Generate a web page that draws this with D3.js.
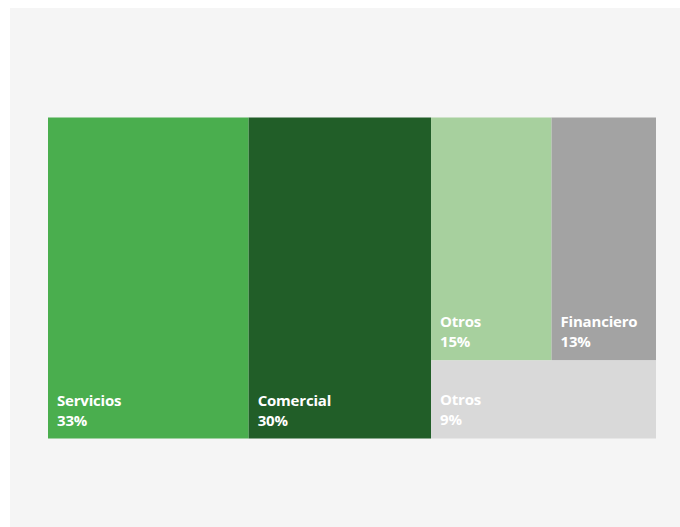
<!DOCTYPE html>
<html>
<head>
<meta charset="utf-8">
<script src="https://cdn.jsdelivr.net/npm/d3@7"></script>
<style>
  html, body { margin: 0; padding: 0; background: #ffffff; }
  svg { display: block; }
</style>
</head>
<body>
<svg id="chart" width="680" height="527"></svg>
<script>
// Data
const sectors = ["Servicios", "Comercial", "Otros", "Financiero", "Otros"];
const shares = [33, 30, 15, 13, 9];
const colors = ["#4aae4e", "#215e28", "#a7d09e", "#a3a3a3", "#d9d9d9"];

const W = 680, H = 527;
const svg = d3.select("#chart");
svg.append("rect").attr("x", 10).attr("y", 8).attr("width", W - 10).attr("height", H - 8).attr("fill", "#f5f5f5");

const leaf = i => ({ name: sectors[i], value: shares[i], color: colors[i] });
const tree = {
  name: "root",
  children: [
    leaf(0),
    leaf(1),
    { name: "resto", children: [
      { name: "top", children: [leaf(2), leaf(3)] },
      leaf(4)
    ] }
  ]
};

const root = d3.hierarchy(tree).sum(d => d.value || 0);
d3.treemap()
  .tile(d3.treemapSliceDice)
  .size([608, 321])
  .round(false)(root);

const g = svg.append("g").attr("transform", "translate(48,117.5)");
const cells = g.selectAll("g.cell").data(root.leaves()).join("g").attr("class", "cell")
  .attr("transform", d => `translate(${d.x0},${d.y0})`);

cells.append("rect")
  .attr("width", d => d.x1 - d.x0)
  .attr("height", d => d.y1 - d.y0)
  .attr("fill", d => d.data.color);

const fontFam = "'Open Sans', 'Noto Sans', sans-serif";
cells.append("text")
  .attr("x", 9)
  .attr("y", d => d.y1 - d.y0 - 33)
  .attr("fill", "#ffffff")
  .attr("font-family", fontFam)
  .attr("font-weight", 700)
  .attr("font-size", 15)
  .attr("letter-spacing", -0.2)
  .text(d => d.data.name);
cells.append("text")
  .attr("x", 9)
  .attr("y", d => d.y1 - d.y0 - 13)
  .attr("fill", "#ffffff")
  .attr("font-family", fontFam)
  .attr("font-weight", 700)
  .attr("font-size", 15)
  .attr("letter-spacing", -0.2)
  .text(d => d.data.value + "%");
</script>
</body>
</html>
